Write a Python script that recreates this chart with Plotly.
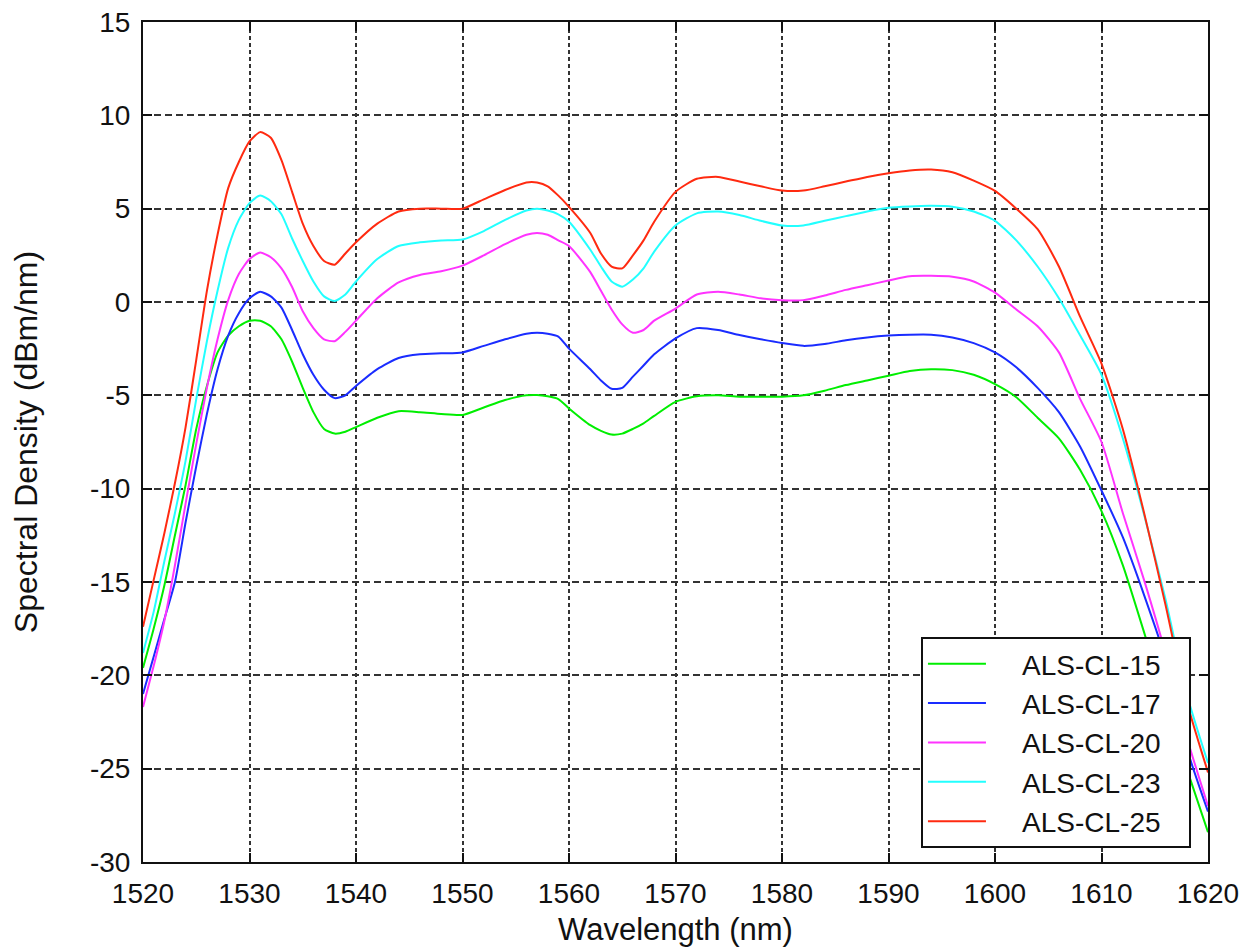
import plotly.graph_objects as go

wavelength = [1520, 1521, 1522, 1523, 1524, 1525, 1526, 1527, 1528, 1529, 1530, 1531, 1532, 1533, 1534,
              1535, 1536, 1537, 1538, 1539, 1540, 1542, 1544, 1546, 1548, 1550, 1552, 1554, 1556, 1557,
              1558, 1559, 1560, 1562, 1563, 1564, 1565, 1566, 1567, 1568, 1570, 1572, 1574, 1576, 1578,
              1580, 1582, 1584, 1586, 1588, 1590, 1592, 1594, 1596, 1598, 1600, 1602, 1604, 1606, 1608,
              1610, 1612, 1614, 1616, 1618, 1620]

als_cl_15 = [-19.6, -17.5, -15.2, -12.5, -9.8, -6.8, -4.5, -2.7, -1.8, -1.3, -1.0, -1.0, -1.3, -2.0, -3.2,
             -4.6, -5.9, -6.8, -7.05, -6.95, -6.7, -6.2, -5.85, -5.9, -6.0, -6.05, -5.65, -5.25, -5.0, -4.98,
             -5.05, -5.2, -5.7, -6.6, -6.9, -7.1, -7.05, -6.8, -6.5, -6.1, -5.35, -5.05, -5.0, -5.07, -5.07,
             -5.07, -5.0, -4.75, -4.45, -4.2, -3.95, -3.7, -3.6, -3.65, -3.9, -4.4, -5.1, -6.2, -7.3, -9.0,
             -11.2, -14.1, -17.7, -21.4, -25.0, -28.4]

als_cl_17 = [-21.0, -19.0, -17.0, -15.0, -11.8, -8.8, -6.0, -3.6, -1.8, -0.6, 0.2, 0.55, 0.3, -0.3, -1.5,
             -2.8, -3.9, -4.7, -5.15, -5.0, -4.5, -3.6, -3.0, -2.8, -2.75, -2.7, -2.35, -2.0, -1.7, -1.65,
             -1.7, -1.85, -2.5, -3.6, -4.2, -4.65, -4.6, -4.0, -3.4, -2.8, -1.95, -1.4, -1.5, -1.77, -2.0,
             -2.2, -2.35, -2.25, -2.05, -1.9, -1.8, -1.75, -1.75, -1.9, -2.2, -2.7, -3.5, -4.6, -5.9, -7.75,
             -10.1, -12.6, -15.7, -19.1, -23.9, -27.3]

als_cl_20 = [-21.7, -19.5, -17.1, -14.1, -10.8, -7.6, -4.6, -2.0, 0.1, 1.5, 2.3, 2.65, 2.4, 1.8, 0.8,
             -0.5, -1.4, -2.0, -2.1, -1.6, -1.0, 0.2, 1.05, 1.45, 1.65, 1.95, 2.5, 3.1, 3.6, 3.7,
             3.6, 3.3, 3.0, 1.6, 0.6, -0.4, -1.2, -1.65, -1.5, -1.0, -0.35, 0.4, 0.55, 0.4, 0.2,
             0.1, 0.1, 0.35, 0.65, 0.9, 1.15, 1.38, 1.4, 1.35, 1.1, 0.5, -0.4, -1.3, -2.7, -5.2,
             -7.5, -11.3, -14.9, -18.8, -23.3, -27.0]

als_cl_23 = [-18.8, -16.6, -13.9, -11.3, -8.5, -5.2, -2.1, 0.6, 2.9, 4.4, 5.3, 5.7, 5.4, 4.7, 3.4,
             2.2, 1.1, 0.3, 0.05, 0.4, 1.1, 2.3, 3.0, 3.2, 3.3, 3.35, 3.8, 4.4, 4.9, 5.0,
             4.9, 4.7, 4.3, 2.8, 1.9, 1.1, 0.82, 1.2, 1.8, 2.7, 4.1, 4.75, 4.85, 4.66, 4.35,
             4.1, 4.1, 4.35, 4.6, 4.85, 5.05, 5.12, 5.15, 5.1, 4.85, 4.35, 3.3, 1.9, 0.2, -1.8,
             -3.9, -7.3, -11.4, -15.9, -21.0, -24.7]

als_cl_25 = [-17.4, -14.9, -12.4, -9.7, -6.7, -3.1, 0.6, 3.6, 6.1, 7.5, 8.6, 9.1, 8.8, 7.6, 5.9,
             4.2, 3.0, 2.2, 2.0, 2.6, 3.2, 4.2, 4.85, 5.0, 5.0, 5.0, 5.5, 6.0, 6.4, 6.4,
             6.2, 5.7, 5.1, 3.7, 2.6, 1.9, 1.8, 2.5, 3.3, 4.3, 5.9, 6.6, 6.7, 6.45, 6.2,
             5.97, 5.97, 6.2, 6.45, 6.7, 6.9, 7.05, 7.1, 6.95, 6.5, 5.95, 5.0, 3.9, 1.9, -0.8,
             -3.3, -6.8, -11.3, -16.2, -21.4, -25.2]

series_names = ["ALS-CL-15", "ALS-CL-17", "ALS-CL-20", "ALS-CL-23", "ALS-CL-25"]
series_values = [als_cl_15, als_cl_17, als_cl_20, als_cl_23, als_cl_25]
series_colors = ["#00ee00", "#1a2cff", "#ff33ff", "#22ffff", "#ff2a10"]

x_ticks = list(range(1520, 1621, 10))
y_ticks = list(range(-30, 16, 5))

FONT = "Liberation Sans, Arial, sans-serif"
NB = "\u00a0"  # non-breaking space used only to pad legend entries like the reference

fig = go.Figure()
for name, vals, col in zip(series_names, series_values, series_colors):
    fig.add_trace(go.Scatter(x=wavelength, y=vals, name=NB * 4 + name + NB * 3, mode="lines",
                             line=dict(color=col, width=2, shape="spline", smoothing=0.6)))

axis_common = dict(showline=True, linecolor="#111111", linewidth=2, mirror="ticks",
                   ticks="inside", ticklen=9, tickwidth=2, tickcolor="#111111",
                   showgrid=True, gridcolor="#333333", gridwidth=2, zeroline=False,
                   automargin=False, ticklabelstandoff=5, ticklabeloverflow="allow",
                   tickfont=dict(family=FONT, size=28, color="#111111"))

fig.update_xaxes(range=[1520, 1620], tickvals=x_ticks, ticktext=[str(t) for t in x_ticks],
                 griddash="4px,3px",
                 title=dict(text="Wavelength (nm)", font=dict(family=FONT, size=31, color="#111111"),
                            standoff=12),
                 **axis_common)
fig.update_yaxes(range=[-30, 15], tickvals=y_ticks, ticktext=[str(t) for t in y_ticks],
                 griddash="7px,4px",
                 title=dict(text="Spectral Density (dBm/nm)", font=dict(family=FONT, size=32, color="#111111"),
                            standoff=48),
                 **axis_common)

fig.add_annotation(text="ALS-CL Series ASE Spectrum", xref="paper", yref="paper",
                   x=0.5, y=1.016, xanchor="center", yanchor="bottom", showarrow=False,
                   font=dict(family=FONT, size=34, color="#111111"))

fig.update_layout(
    width=1242, height=939,
    margin=dict(l=135, r=42, t=14, b=85),
    paper_bgcolor="white", plot_bgcolor="white",
    showlegend=True,
    legend=dict(x=0.984, y=0.0167, xanchor="right", yanchor="bottom",
                bgcolor="white", bordercolor="#111111", borderwidth=2,
                font=dict(family=FONT, size=28, color="#111111"),
                itemwidth=58, tracegroupgap=0),
)

fig.write_html("out.html")
